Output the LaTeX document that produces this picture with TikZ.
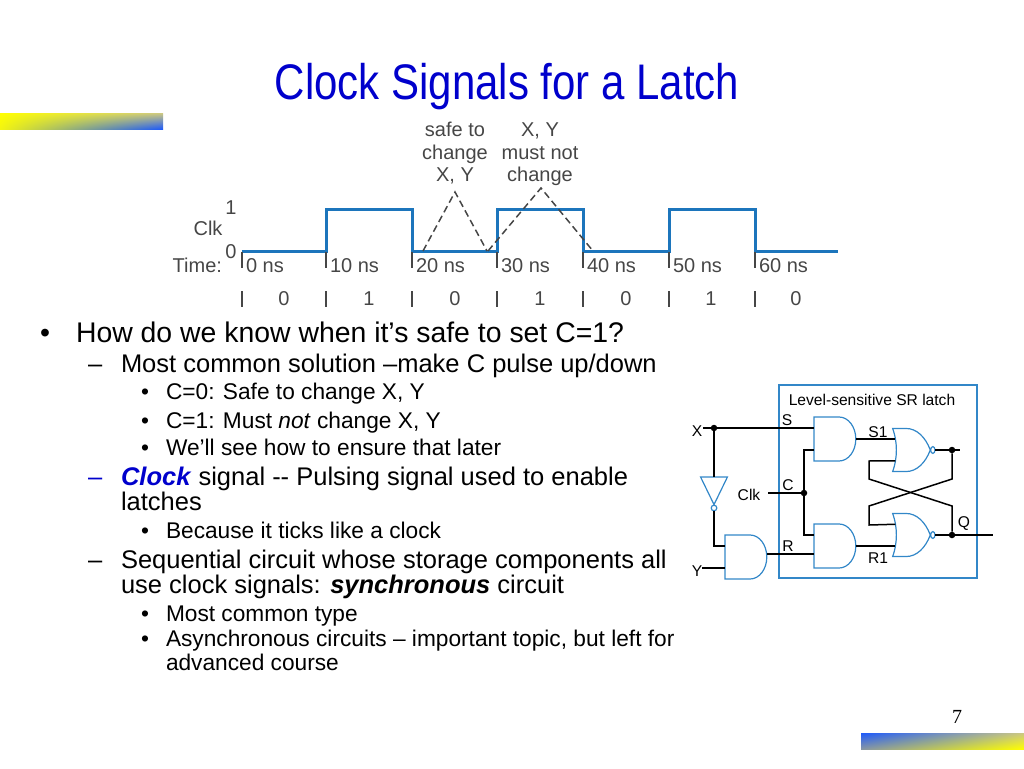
\documentclass[tikz,border=0pt]{standalone}
\usepackage{fontspec}
\setmainfont{Liberation Sans}
\newfontfamily\pagefont{Liberation Serif}
\usetikzlibrary{positioning, calc, shadings, shapes.gates.logic.US}
\definecolor{titleblue}{RGB}{0,0,204}
\definecolor{waveblue}{RGB}{28,117,188}
\definecolor{gateblue}{RGB}{50,135,200}
\definecolor{figgray}{RGB}{70,70,70}
\definecolor{barblue}{RGB}{30,90,250}
\definecolor{baryellow}{RGB}{255,255,0}
\definecolor{bartan}{RGB}{205,200,130}
\definecolor{barmid}{RGB}{135,150,165}

\begin{document}
\begin{tikzpicture}
    [
        x=1pt, y=-1pt,
        basic/.style = {inner sep=0pt, outer sep=0pt},
        lvlone/.style = {basic, anchor=base west, font=\fontsize{28.4}{32}\selectfont},
        lvltwo/.style = {basic, anchor=base west, font=\fontsize{25.5}{30}\selectfont},
        lvlthree/.style = {basic, anchor=base west, font=\fontsize{22.7}{26}\selectfont},
        fig/.style = {basic, text=figgray, font=\fontsize{20}{22.5}\selectfont},
        figtop/.style = {fig, align=center, anchor=base},
        latch/.style = {basic, font=\fontsize{15.6}{18}\selectfont},
        wave/.style = {draw=waveblue, line width=3pt, line join=miter},
        tickmark/.style = {draw=figgray, line width=1.3pt},
        safe/.style = {draw=figgray, line width=1.5pt, dash pattern=on 7pt off 4pt},
        wire/.style = {draw=black, line width=1.5pt},
        andgate/.style = {and gate US, draw=gateblue, line width=1.2pt, basic, logic gate inputs=nnn, logic gate input sep=11pt, xscale=0.76},
        norgate/.style = {nor gate US, draw=gateblue, line width=1.2pt, basic, logic gate inputs=nnn, logic gate input sep=10.75pt, logic gate inverted radius=3.4pt, xscale=0.64},
        invgate/.style = {not gate US, draw=gateblue, line width=1.2pt, basic, minimum height=23pt, minimum width=23pt, logic gate inverted radius=2.8pt},
        joint/.style = {circle, fill=black, inner sep=0pt, minimum size=6.5pt}
    ]
    \useasboundingbox (0,0) rectangle (1024,768);

    % bars and title
    \shade [upper left=baryellow, lower left=baryellow!90!barmid, upper right=bartan, lower right=barblue] (0,113) rectangle (163,129);
    \shade [upper left=barblue, lower left=barmid, upper right=bartan, lower right=baryellow] (861,733) rectangle (1024,749);
    \node [basic, text=titleblue, font=\fontsize{50}{54}\selectfont, xscale=0.84] (title) at (507,87) {Clock Signals for a Latch};
    \node [basic, font=\pagefont\fontsize{20}{24}\selectfont] (pagenum) at (957,717) {7};

    % clock waveform
    \draw [wave] (242,251) -- (326,251) -- (326,209) -- (412,209) -- (412,251) -- (497,251) -- (497,209) -- (583,209) -- (583,251) -- (669,251) -- (669,209) -- (755,209) -- (755,251) -- (838,251);
    \foreach \x/\t/\b/\c in {242/0 ns/0/284, 326/10 ns/1/369, 412/20 ns/0/455, 497/30 ns/1/540, 583/40 ns/0/626, 669/50 ns/1/711, 755/60 ns/0/796} {
        \draw [tickmark] (\x,252) -- (\x,268);
        \draw [tickmark] (\x,291) -- (\x,307);
        \node [fig, anchor=base west] at (\x+4,272) {\t};
        \node [fig, anchor=base] at (\c,305) {\b};
    }
    \node [fig] (clk) at (208,228) {Clk};
    \node [fig] (one) at (231,208) {1};
    \node [fig] (zero) at (231,252) {0};
    \node [fig, anchor=base east] (timelbl) at (222,272) {Time:};
    \node [figtop] (safelbl) at (455,181.5) {safe to\\change\\X, Y};
    \node [figtop] (mustlbl) at (540,181.5) {X, Y\\must not\\change};
    \coordinate (s1) at (423,251);
    \coordinate (s2) at (455,192);
    \coordinate (s3) at (487,251);
    \coordinate (m1) at (488,251);
    \coordinate (m2) at (541,188);
    \coordinate (m3) at (593,251);
    \draw [safe] (s1) -- (s2) -- (s3);
    \draw [safe] (m1) -- (m2) -- (m3);

    % bullets
    \node [lvlone, anchor=base] (b0) at (45,342) {\textbullet};
    \node [lvlone] (t0) at (76,342) {How do we know when it’s safe to set C=1?};
    \node [lvltwo] (d1) at (88,372) {–};
    \node [lvltwo] (t1) at (121,372) {Most common solution –make C pulse up/down};
    \node [lvlthree] (b2) at (141,399) {\textbullet};
    \node [lvlthree] (t2) at (166,399) {C=0: Safe to change X, Y};
    \node [lvlthree] (b3) at (141,428) {\textbullet};
    \node [lvlthree] (t3) at (166,428) {C=1: Must \textit{not} change X, Y};
    \node [lvlthree] (b4) at (141,455) {\textbullet};
    \node [lvlthree] (t4) at (166,455) {We’ll see how to ensure that later};
    \node [lvltwo, text=titleblue] (d5) at (88,485) {–};
    \node [lvltwo] (t5) at (121,485) {\textcolor{titleblue}{\textbf{\textit{Clock}}} signal -{}- Pulsing signal used to enable};
    \node [lvltwo] (t5b) at (121,510) {latches};
    \node [lvlthree] (b6) at (141,538) {\textbullet};
    \node [lvlthree] (t6) at (166,538) {Because it ticks like a clock};
    \node [lvltwo] (d7) at (88,568) {–};
    \node [lvltwo] (t7) at (121,568) {Sequential circuit whose storage components all};
    \node [lvltwo] (t7b) at (121,593) {use clock signals: \textbf{\textit{synchronous}} circuit};
    \node [lvlthree] (b8) at (141,621) {\textbullet};
    \node [lvlthree] (t8) at (166,621) {Most common type};
    \node [lvlthree] (b9) at (141,646) {\textbullet};
    \node [lvlthree] (t9) at (166,646) {Asynchronous circuits – important topic, but left for};
    \node [lvlthree] (t9b) at (166,670) {advanced course};

    % latch
    \node [draw=gateblue, line width=1.3pt, basic, minimum width=198pt, minimum height=193pt, anchor=north west] (frame) at (779,385) {};
    \node [latch] (framelbl) at (872,400) {Level-sensitive SR latch};

    \node [andgate, anchor=input 1] (and1) at (814,428) {};
    \node [andgate, anchor=input 1] (and2) at (814,535) {};
    \node [andgate, anchor=input 1] (and3) at (725,546) {};
    \node [norgate, anchor=output] (nor1) at (935,450) {};
    \node [norgate, anchor=output] (nor2) at (935,535) {};
    \node [invgate, rotate=-90, anchor=input] (inv) at (714,477) {};

    \coordinate (xin) at (703,428);
    \coordinate (yin) at (702,568);
    \coordinate (clkin) at (768,493);
    \coordinate (rin) at (814,554);
    \coordinate (qtop) at (960,450);
    \coordinate (qout) at (993,535);
    \node [joint] (jx) at (714,428) {};
    \node [joint] (jc) at (804,493) {};
    \node [joint] (jq1) at (952,450) {};
    \node [joint] (jq2) at (952,535) {};

    \draw [wire] (xin) -- (jx) -- (and1.input 1);
    \draw [wire] (jx) -- (inv.input);
    \draw [wire] (inv.output) |- (and3.input 1);
    \draw [wire] (yin) -- (and3.input 3);
    \draw [wire] (and3.output |- rin) -- (rin);
    \draw [wire] (clkin) -- (jc);
    \draw [wire] (and1.input 3) -| (jc);
    \draw [wire] (and2.input 1) -| (jc);
    \draw [wire] (and1.output) -- (and1.output -| nor1.input 1);
    \draw [wire] (and2.output) -- (and2.output -| nor2.input 3);
    \draw [wire] (nor1.output) -- (qtop);
    \draw [wire] (nor2.output) -- (qout);
    \draw [wire] (nor1.input 3) -- (869,461) -- (869,479) -- (952,506) -- (jq2);
    \draw [wire] (jq1) -- (952,479) -- (869,506) -- (869,525) -- (nor2.input 1);

    \node [latch] (xlbl) at (697,431) {X};
    \node [latch] (ylbl) at (697,571) {Y};
    \node [latch] (slbl) at (787,420) {S};
    \node [latch] (clbl) at (788,485) {C};
    \node [latch] (rlbl) at (788,546) {R};
    \node [latch] (clkbl) at (749,495) {Clk};
    \node [latch] (s1lbl) at (878,432) {S1};
    \node [latch] (r1lbl) at (878,558) {R1};
    \node [latch] (qlbl) at (964,524) {Q};
\end{tikzpicture}
\end{document}
